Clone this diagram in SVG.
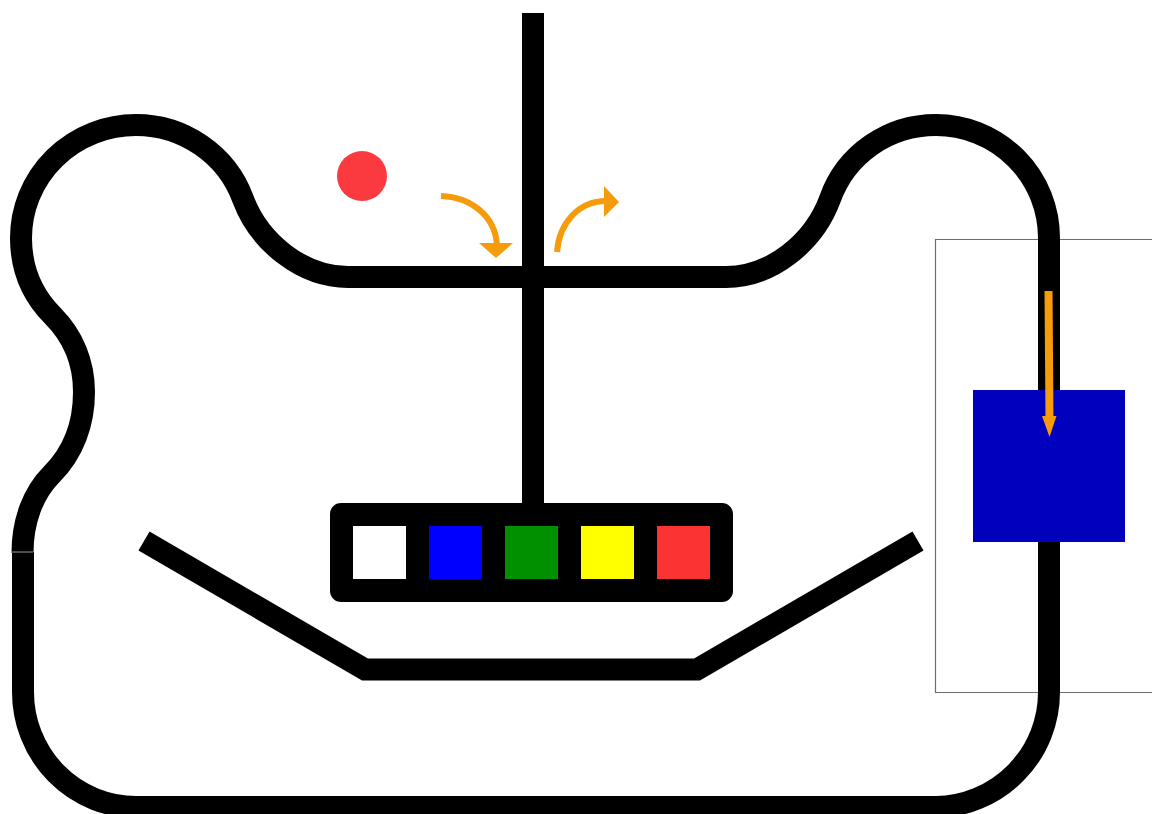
<svg xmlns="http://www.w3.org/2000/svg" width="1152" height="814" viewBox="0 0 1152 814">
<style>
.t{fill:none;stroke:#000;stroke-width:22}
.a{fill:none;stroke:#f59b0c;stroke-width:6}
.h{fill:#f59b0c}
</style>
<rect width="1152" height="814" fill="#fff"/>
<path d="M1152 239.500H935.500V692.500H1152" fill="none" stroke="#6e6e6e" stroke-width="1.200"/>
<g id="track">
<path class="t" d="M22.500 553C22.500 521 33 493 52 474C73 453 84 424 84 392C84 363 73 336 53 316C32 295 21 268 21 238A115 113 0 0 1 136 125C183.500 125 226.600 154.400 243 199C259 242 302 277 348 277H726C772 277 814 242 830 199C846 154 888.500 125 936 125A113 113 0 0 1 1049 238V692A115 115 0 0 1 936 807H136A113 115 0 0 1 23 692V552"/>
<path class="t" d="M533 13V510"/>
<path class="t" d="M144 541L365 669.500H697L918 541"/>
<path d="M11 552H33" stroke="#999" stroke-width="1"/>
</g>
<g id="sensor"><rect x="973" y="390" width="152" height="152" fill="#0000bd"/></g>
<g id="panel">
<rect x="341" y="514" width="381" height="77" fill="#000" stroke="#000" stroke-width="22" stroke-linejoin="round"/>
<rect x="353" y="526" width="53" height="53" fill="#fff"/>
<rect x="429" y="526" width="53" height="53" fill="#00f"/>
<rect x="505" y="526" width="53" height="53" fill="#009000"/>
<rect x="581" y="526" width="53" height="53" fill="#ff0"/>
<rect x="657" y="526" width="53" height="53" fill="#fb3333"/>
</g>
<circle id="ball" cx="362" cy="176" r="25" fill="#fb3a3f"/>
<g id="arrows">
<path class="a" d="M441 196C470 197 495 215 497 245"/>
<path class="h" d="M479 243H513L496 258Z"/>
<path class="a" d="M557 252C559 224 578 201 606 201"/>
<path class="h" d="M604 186L619 202L604 217Z"/>
<path d="M1048.500 291L1049.500 420" fill="none" stroke="#f59b0c" stroke-width="8"/>
<path class="h" d="M1042 416H1056.500L1049.500 437Z"/>
</g>
</svg>
